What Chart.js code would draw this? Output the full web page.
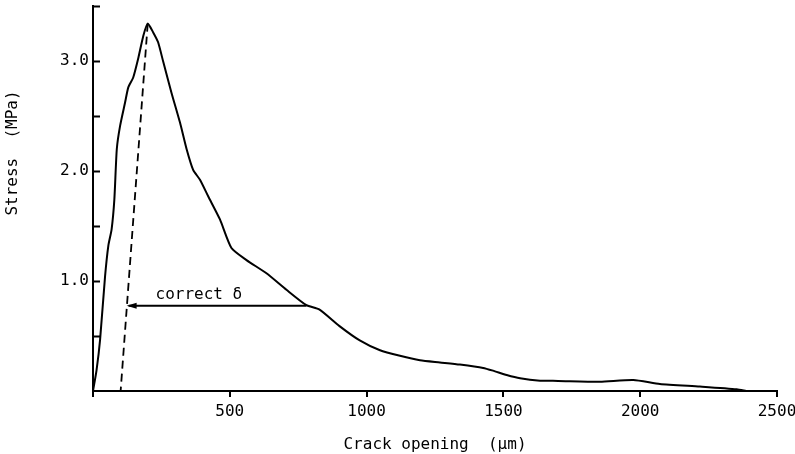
<!DOCTYPE html>
<html>
<head>
<meta charset="utf-8">
<script src="https://cdn.jsdelivr.net/npm/chart.js@4/dist/chart.umd.min.js"></script>
<style>
  html, body { margin: 0; padding: 0; background: #fff; }
  #wrap { width: 795px; height: 454px; }
</style>
</head>
<body>
<div id="wrap"><canvas id="myChart" width="795" height="454"></canvas></div>
<script>
'use strict';
// measured stress / crack opening curve
const openingUm = [0, 13, 26, 44, 56, 68, 78, 87, 99, 117, 129, 147, 165, 184, 200, 220, 238, 257, 287, 318, 342, 366, 391, 421, 464, 506, 561, 634, 707, 780, 828, 901, 975, 1049, 1122, 1195, 1268, 1341, 1426, 1462, 1512, 1561, 1634, 1700, 1853, 1975, 2072, 2218, 2353, 2387];
const stressMPa = [0, 0.19, 0.47, 1.04, 1.32, 1.47, 1.74, 2.2, 2.41, 2.62, 2.76, 2.85, 3.02, 3.23, 3.34, 3.26, 3.17, 2.99, 2.71, 2.44, 2.2, 2.01, 1.92, 1.77, 1.56, 1.3, 1.19, 1.07, 0.92, 0.78, 0.74, 0.59, 0.46, 0.37, 0.32, 0.28, 0.26, 0.24, 0.21, 0.185, 0.145, 0.115, 0.094, 0.092, 0.085, 0.1, 0.064, 0.04, 0.015, 0];

// dashed unloading line (peak down to axis)
const unloadX = [200, 101];
const unloadY = [3.34, 0];

// "correct delta" arrow
const deltaX = [123, 780];
const deltaY = 0.775;
const deltaLabel = 'correct δ';
const deltaLabelPos = [387, 0.87];

const yLabelValues = [1, 2, 3];
const xTitle = 'Crack opening  (μm)';
const yTitle = 'Stress  (MPa)';

const FONT = "'DejaVu Sans Mono', monospace";

//////////////////////////////////////////////

function toPoints(xs, ys){
  let pts = [];
  for(let i = 0; i < xs.length; i++){
    pts.push({x: xs[i], y: ys[i]});
  }
  return pts;
}

const extras = {
  id: 'extras',
  afterDraw(chart){
    const ctx = chart.ctx;
    const x = chart.scales.x;
    const y = chart.scales.y;
    ctx.save();
    ctx.strokeStyle = '#000';
    ctx.fillStyle = '#000';

    // inward ticks on y axis
    ctx.lineWidth = 2;
    const left = x.getPixelForValue(0);
    y.ticks.forEach(t => {
      if (t.value === 0) return;
      const py = Math.round(y.getPixelForValue(t.value)) + 0.5;
      ctx.beginPath();
      ctx.moveTo(left, py);
      ctx.lineTo(left + 7, py);
      ctx.stroke();
    });

    // horizontal delta line with left arrow
    const ax1 = x.getPixelForValue(deltaX[0]);
    const ax2 = x.getPixelForValue(deltaX[1]);
    const ay = y.getPixelForValue(deltaY);
    ctx.lineWidth = 2;
    ctx.beginPath();
    ctx.moveTo(ax1 + 2, ay);
    ctx.lineTo(ax2, ay);
    ctx.stroke();
    ctx.beginPath();
    ctx.moveTo(ax1, ay);
    ctx.lineTo(ax1 + 10, ay - 3);
    ctx.lineTo(ax1 + 10, ay + 3);
    ctx.closePath();
    ctx.fill();

    // label
    ctx.font = '16px ' + FONT;
    ctx.textAlign = 'center';
    ctx.textBaseline = 'middle';
    ctx.fillText(deltaLabel, x.getPixelForValue(deltaLabelPos[0]), y.getPixelForValue(deltaLabelPos[1]));

    // y axis title (sits above centre in the original)
    ctx.translate(13, 153);
    ctx.rotate(-Math.PI / 2);
    ctx.fillText(yTitle, 0, 0);
    ctx.restore();
  }
};

let context = document.getElementById('myChart').getContext('2d');
let chart = new Chart(context, {
  type: 'scatter',
  data: {
    datasets: [{
      label: 'Stress',
      data: toPoints(openingUm, stressMPa),
      showLine: true,
      borderColor: '#000',
      borderWidth: 2,
      pointRadius: 0,
      tension: 0.2
    },
    {
      label: 'Unloading',
      data: toPoints(unloadX, unloadY),
      showLine: true,
      borderColor: '#000',
      borderWidth: 1.8,
      borderDash: [8, 5],
      pointRadius: 0
    }]
  },
  options: {
    responsive: false,
    animation: false,
    layout: { padding: { top: 6, right: 0, left: 0, bottom: 0 } },
    plugins: {
      legend: { display: false },
      tooltip: { enabled: false }
    },
    scales: {
      x: {
        type: 'linear',
        min: 0,
        max: 2500,
        border: { color: '#000', width: 2 },
        grid: { drawOnChartArea: false, color: '#000', lineWidth: 2, tickLength: 6 },
        ticks: {
          stepSize: 500,
          color: '#000',
          padding: 5,
          maxRotation: 0,
          font: { family: FONT, size: 16 },
          callback: v => (v === 0 ? '' : String(v))
        },
        title: {
          display: true,
          text: xTitle,
          color: '#000',
          font: { family: FONT, size: 16 },
          padding: { top: 5, bottom: 0 }
        },
        afterFit: s => { s.height = 63; s.paddingLeft = 0; s.paddingRight = 18; }
      },
      y: {
        type: 'linear',
        min: 0,
        max: 3.5,
        border: { color: '#000', width: 2 },
        grid: { drawOnChartArea: false, drawTicks: false },
        ticks: {
          stepSize: 0.5,
          color: '#000',
          padding: 4,
          font: { family: FONT, size: 16 },
          callback: v => (yLabelValues.includes(v) ? v.toFixed(1) : '')
        },
        afterFit: s => { s.width = 93; s.paddingTop = 0; s.paddingBottom = 0; }
      }
    }
  },
  plugins: [extras]
});
</script>
</body>
</html>
